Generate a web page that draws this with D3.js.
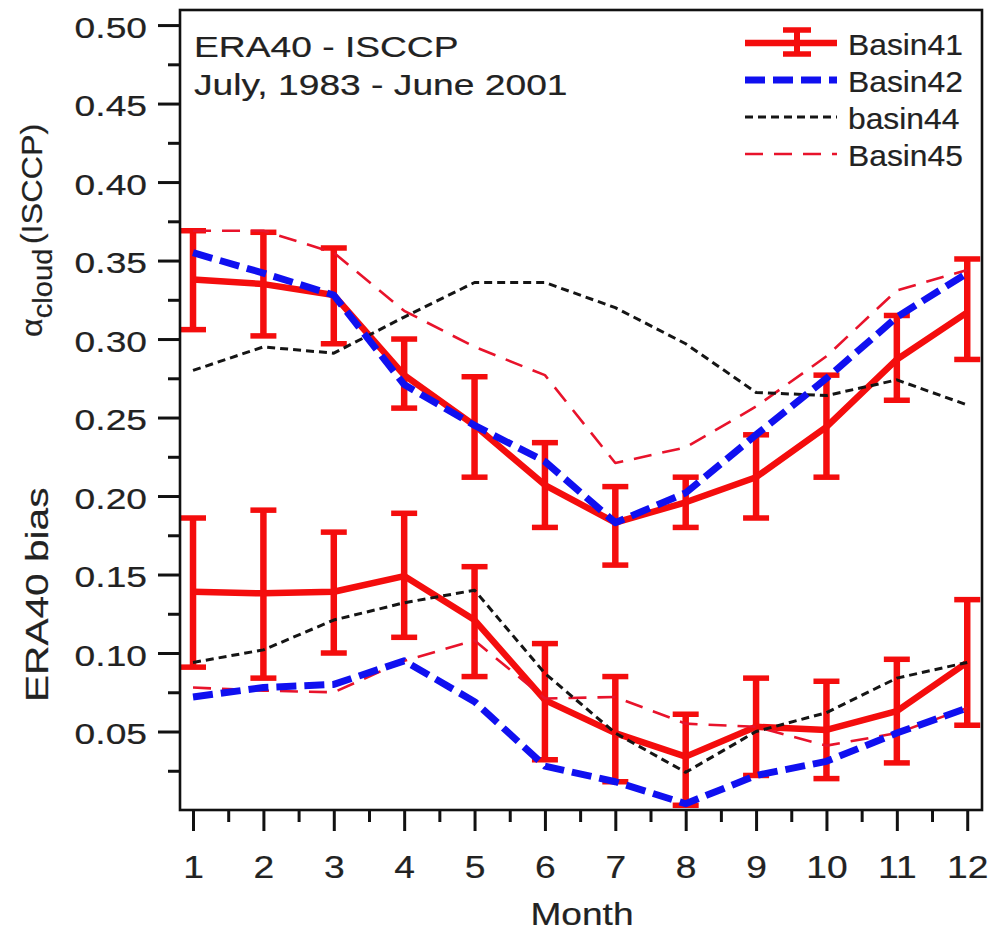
<!DOCTYPE html>
<html>
<head>
<meta charset="utf-8">
<script src="https://cdn.jsdelivr.net/npm/d3@7"></script>
<style>
  html, body { margin: 0; padding: 0; background: #fff; }
  svg { display: block; }
</style>
</head>
<body>
<svg id="chart" width="991" height="930"></svg>
<script>
// Months on the x axis
const months = [1, 2, 3, 4, 5, 6, 7, 8, 9, 10, 11, 12];
const monthTicks = [1, 2, 3, 4, 5, 6, 7, 8, 9, 10, 11, 12];
const monthMinorTicks = [1.5, 2.5, 3.5, 4.5, 5.5, 6.5, 7.5, 8.5, 9.5, 10.5, 11.5];
const yTicks = [0.05, 0.10, 0.15, 0.20, 0.25, 0.30, 0.35, 0.40, 0.45, 0.50];
const yMinorTicks = [0.025, 0.075, 0.125, 0.175, 0.225, 0.275, 0.325, 0.375, 0.425, 0.475];

// Cloud albedo (ISCCP), upper group of curves
const basin41Cloud   = [0.338, 0.335, 0.328, 0.277, 0.245, 0.207, 0.183, 0.196, 0.212, 0.244, 0.287, 0.317];
const basin41CloudHi = [0.369, 0.368, 0.358, 0.300, 0.276, 0.234, 0.206, 0.212, 0.239, 0.277, 0.315, 0.351];
const basin41CloudLo = [0.306, 0.302, 0.297, 0.256, 0.212, 0.180, 0.156, 0.180, 0.186, 0.212, 0.261, 0.287];
const basin42Cloud   = [0.355, 0.342, 0.328, 0.271, 0.245, 0.222, 0.183, 0.202, 0.239, 0.275, 0.314, 0.342];
const basin44Cloud   = [0.280, 0.295, 0.291, 0.314, 0.336, 0.336, 0.320, 0.297, 0.266, 0.264, 0.274, 0.258];
const basin45Cloud   = [0.369, 0.369, 0.355, 0.318, 0.295, 0.277, 0.221, 0.231, 0.257, 0.289, 0.331, 0.344];

// ERA40 bias, lower group of curves
const basin41Bias   = [0.139, 0.138, 0.139, 0.149, 0.121, 0.070, 0.049, 0.034, 0.053, 0.051, 0.063, 0.094];
const basin41BiasHi = [0.186, 0.191, 0.177, 0.189, 0.155, 0.106, 0.085, 0.061, 0.084, 0.082, 0.096, 0.134];
const basin41BiasLo = [0.091, 0.084, 0.100, 0.110, 0.085, 0.032, 0.018, 0.003, 0.022, 0.020, 0.030, 0.054];
const basin42Bias   = [0.072, 0.078, 0.080, 0.095, 0.069, 0.028, 0.018, 0.004, 0.022, 0.031, 0.049, 0.065];
const basin44Bias   = [0.094, 0.102, 0.121, 0.132, 0.140, 0.087, 0.049, 0.024, 0.050, 0.062, 0.084, 0.094];
const basin45Bias   = [0.078, 0.076, 0.075, 0.095, 0.108, 0.071, 0.072, 0.055, 0.053, 0.041, 0.049, 0.065];

const legendLabels = ["Basin41", "Basin42", "basin44", "Basin45"];
const titleLines = ["ERA40 - ISCCP", "July, 1983 - June 2001"];

const FONT = "'Liberation Sans', Arial, Helvetica, sans-serif";
const SX = 1.24; // horizontal widening of the lettering
const INK = "#222";

const styles = {
  Basin41: { color: "#f40d0d", width: 6.5, dash: null },
  Basin42: { color: "#1010f0", width: 7, dash: "20,8" },
  basin44: { color: "#151515", width: 3, dash: "8,5" },
  Basin45: { color: "#e8132b", width: 2.6, dash: "18,11" }
};

const svg = d3.select("#chart");
const plotLeft = 180, plotRight = 982, plotTop = 10, plotBottom = 810;

const x = d3.scaleLinear().domain([0.815, 12.21]).range([plotLeft, plotRight]);
const y = d3.scaleLinear().domain([0, 0.5096]).range([plotBottom, plotTop]);

svg.append("rect").attr("width", 991).attr("height", 930).attr("fill", "#fff");

// Shared text look
function textStyle(sel, size) {
  return sel.attr("font-family", FONT).attr("font-size", size)
    .attr("fill", INK).attr("stroke", INK).attr("stroke-width", 0.2);
}

// Left axis: major and minor ticks
const yAxisG = svg.append("g").attr("transform", `translate(${plotLeft},0)`);
yAxisG.call(d3.axisLeft(y).tickValues(yTicks).tickSize(22).tickFormat(d3.format(".2f")));
const yMinorG = svg.append("g").attr("transform", `translate(${plotLeft},0)`);
yMinorG.call(d3.axisLeft(y).tickValues(yMinorTicks).tickSize(12).tickFormat(""));

// Bottom axis: major and minor ticks
const xAxisG = svg.append("g").attr("transform", `translate(0,${plotBottom})`);
xAxisG.call(d3.axisBottom(x).tickValues(monthTicks).tickSize(21).tickFormat(d3.format("d")));
const xMinorG = svg.append("g").attr("transform", `translate(0,${plotBottom})`);
xMinorG.call(d3.axisBottom(x).tickValues(monthMinorTicks).tickSize(12).tickFormat(""));

[yAxisG, yMinorG, xAxisG, xMinorG].forEach(g => {
  g.select(".domain").remove();
  g.selectAll(".tick line").attr("stroke", "#111").attr("stroke-width", 3);
});

textStyle(yAxisG.selectAll(".tick text"), 30)
  .attr("x", 0).attr("dy", "0.4em")
  .attr("transform", `translate(-33,0) scale(${SX},1)`)
  .attr("text-anchor", "end");

textStyle(xAxisG.selectAll(".tick text"), 31)
  .attr("y", 0).attr("dy", 0)
  .attr("transform", `translate(0,68) scale(1.2,1)`)
  .attr("text-anchor", "middle");

// Curves
const line = vals => d3.line().x((d, i) => x(months[i])).y(d => y(d))(vals);

function drawSeries(name, vals) {
  const s = styles[name];
  svg.append("path")
    .attr("d", line(vals))
    .attr("fill", "none")
    .attr("stroke", s.color)
    .attr("stroke-width", s.width)
    .attr("stroke-dasharray", s.dash)
    .attr("stroke-linejoin", "round");
}

function drawErrorBars(lo, hi, color) {
  const g = svg.append("g").attr("stroke", color);
  const capW = 13;
  months.forEach((m, i) => {
    const cx = x(m);
    g.append("line").attr("x1", cx).attr("x2", cx)
      .attr("y1", y(lo[i])).attr("y2", y(hi[i])).attr("stroke-width", 6.5);
    [lo[i], hi[i]].forEach(v => {
      g.append("line").attr("x1", cx - capW).attr("x2", cx + capW)
        .attr("y1", y(v)).attr("y2", y(v)).attr("stroke-width", 5.5);
    });
  });
}

// basin41 with error bars, then the other basins
drawErrorBars(basin41CloudLo, basin41CloudHi, styles.Basin41.color);
drawErrorBars(basin41BiasLo, basin41BiasHi, styles.Basin41.color);
drawSeries("Basin41", basin41Cloud);
drawSeries("Basin41", basin41Bias);
drawSeries("Basin45", basin45Cloud);
drawSeries("Basin45", basin45Bias);
drawSeries("basin44", basin44Cloud);
drawSeries("basin44", basin44Bias);
drawSeries("Basin42", basin42Cloud);
drawSeries("Basin42", basin42Bias);

// Frame
svg.append("rect")
  .attr("x", plotLeft).attr("y", plotTop)
  .attr("width", plotRight - plotLeft).attr("height", plotBottom - plotTop)
  .attr("fill", "none").attr("stroke", "#111").attr("stroke-width", 2.6);

// Title block inside the frame
titleLines.forEach((t, i) => {
  textStyle(svg.append("text"), 30)
    .attr("transform", `translate(194,${57 + i * 38}) scale(${SX},1)`)
    .text(t);
});

// Legend
const legendX0 = 745, legendX1 = 837, legendY0 = 43, legendStep = 37;
legendLabels.forEach((name, i) => {
  const s = styles[name];
  const ly = legendY0 + i * legendStep;
  svg.append("line")
    .attr("x1", legendX0).attr("x2", legendX1)
    .attr("y1", ly).attr("y2", ly)
    .attr("stroke", s.color).attr("stroke-width", s.width)
    .attr("stroke-dasharray", s.dash);
  if (name === "Basin41") {
    const cx = (legendX0 + legendX1) / 2 + 6;
    svg.append("line").attr("x1", cx).attr("x2", cx).attr("y1", ly - 13).attr("y2", ly + 11)
      .attr("stroke", s.color).attr("stroke-width", 6);
    [ly - 13, ly + 11].forEach(v => svg.append("line")
      .attr("x1", cx - 14).attr("x2", cx + 14).attr("y1", v).attr("y2", v)
      .attr("stroke", s.color).attr("stroke-width", 5.5));
  }
  textStyle(svg.append("text"), 30)
    .attr("transform", `translate(848,${ly + 12}) scale(1.06,1)`)
    .text(name);
});

// Axis titles
textStyle(svg.append("text"), 32)
  .attr("transform", `translate(582,925) scale(1.16,1)`)
  .attr("text-anchor", "middle")
  .text("Month");

textStyle(svg.append("text"), 32)
  .attr("transform", `translate(48,702) rotate(-90) scale(1.27,1)`)
  .text("ERA40 bias");

const yTitle = textStyle(svg.append("text"), 30)
  .attr("transform", `translate(42,337) rotate(-90) scale(1.08,1)`);
yTitle.append("tspan").text("α");
yTitle.append("tspan").attr("font-size", 27).attr("dy", 10).text("cloud");
yTitle.append("tspan").attr("dy", -10).attr("dx", 4).text("(ISCCP)");
</script>
</body>
</html>
